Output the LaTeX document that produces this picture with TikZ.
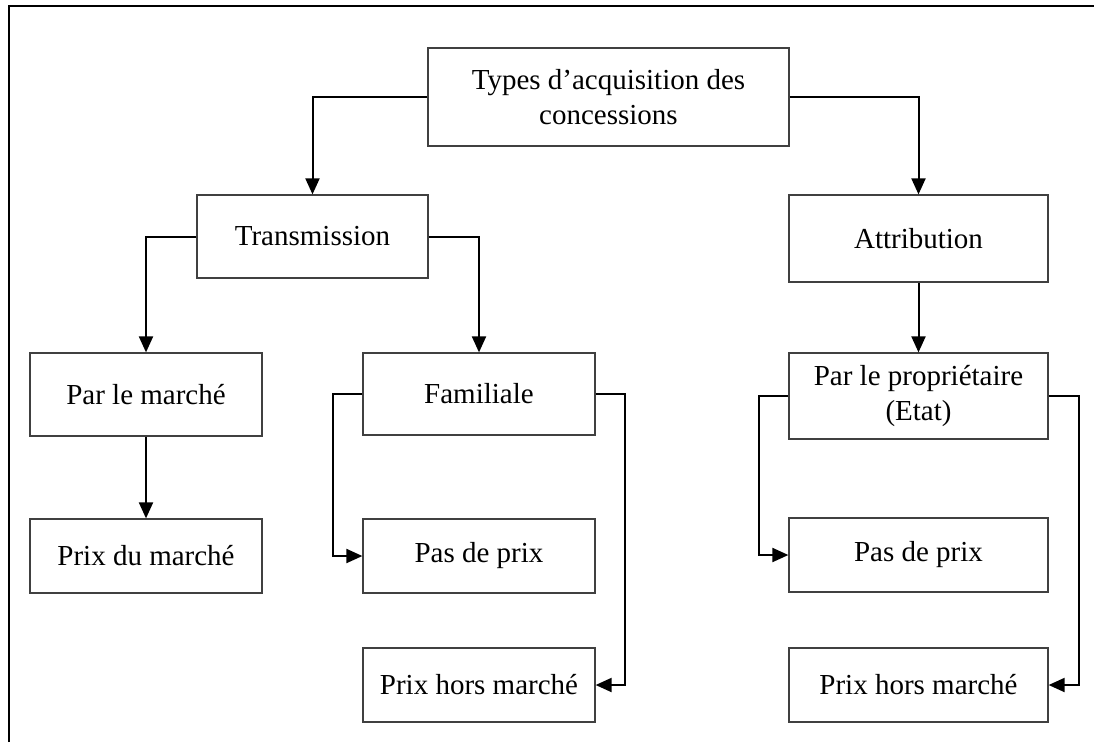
\documentclass[tikz,border=0pt]{standalone}
\usepackage{fontspec}
\setmainfont{Liberation Serif}
\usetikzlibrary{positioning, arrows.meta}
\tikzset{
  box/.style={draw=black!75, line width=0.5pt, align=center, inner sep=0pt,
    font=\fontsize{11.6}{14.2}\selectfont},
  link/.style={line width=0.8pt, -{Triangle[length=6.4pt,width=5.6pt]}}
}

\begin{document}
\begin{tikzpicture}[x=0.4pt, y=-0.4pt]
      \useasboundingbox (0,0) rectangle (1094,742);
      \draw[line width=0.9pt] (9,742) -- (9,6) -- (1094,6);

      \node[box, minimum width=144.4pt, minimum height=39.2pt] (TAC) at (608.5,97) {Types d'acquisition des\\concessions};

      \node[box, minimum width=92.4pt, minimum height=33.2pt] (Trans) at (312.5,236.5) {Transmission};
      \node[box, minimum width=103.6pt, minimum height=34.8pt] (Attr) at (918.5,238.5) {Attribution};

      \node[box, minimum width=92.8pt, minimum height=33.2pt] (ParMar) at (146,394.5) {Par le marché};
      \node[box, minimum width=92.8pt, minimum height=32.8pt] (Fam) at (479,394) {Familiale};
      \node[box, minimum width=103.6pt, minimum height=34.4pt] (ParProp) at (918.5,396) {Par le propriétaire\\(Etat)};

      \node[box, minimum width=92.8pt, minimum height=29.6pt] (PrixMar) at (146,556) {Prix du marché};
      \node[box, minimum width=92.8pt, minimum height=29.6pt] (PasPrix1) at (479,556) {Pas de prix};
      \node[box, minimum width=103.6pt, minimum height=29.6pt] (PasPrix2) at (918.5,555) {Pas de prix};

      \node[box, minimum width=92.8pt, minimum height=29.6pt] (HorsMar1) at (479,685) {Prix hors marché};
      \node[box, minimum width=103.6pt, minimum height=29.6pt] (HorsMar2) at (918.5,685) {Prix hors marché};

      \draw[link] (TAC.west) -| (Trans.north);
      \draw[link] (TAC.east) -| (Attr.north);
      \draw[link] (Trans.west) -| (ParMar.north);
      \draw[link] (Trans.east) -| (Fam.north);
      \draw[link] (Attr.south) -- (ParProp.north);
      \draw[link] (ParMar.south) -- (PrixMar.north);

      \draw[link] (Fam.west) -- ++(-29,0) |- (PasPrix1.west);
      \draw[link] (Fam.east) -- ++(29,0) |- (HorsMar1.east);
      \draw[link] (ParProp.west) -- ++(-29,0) |- (PasPrix2.west);
      \draw[link] (ParProp.east) -- ++(30,0) |- (HorsMar2.east);
    \end{tikzpicture}
\end{document}
